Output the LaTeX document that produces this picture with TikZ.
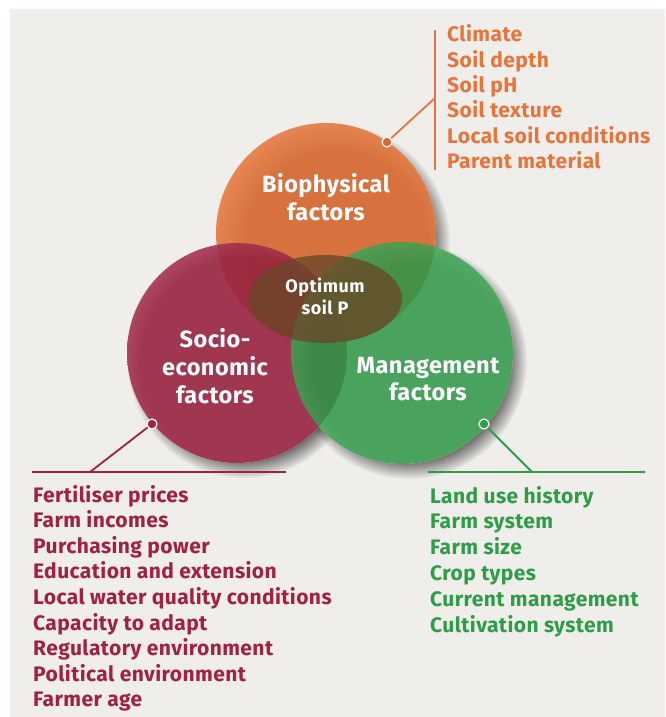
\documentclass[tikz,border=0pt]{standalone}
\usepackage{fontspec}
\setmainfont{Fira Sans}
\newfontfamily\listfont{Fira Sans}[LetterSpace=2]
\newfontfamily\optfont{Fira Sans}[LetterSpace=3]
\usetikzlibrary{fadings}
\definecolor{bgc}{HTML}{EFEEEA}
\definecolor{orC}{HTML}{D66C36}
\definecolor{orL}{HTML}{F08D56}
\definecolor{rdC}{HTML}{98233F}
\definecolor{rdL}{HTML}{B44761}
\definecolor{grC}{HTML}{2E9747}
\definecolor{grL}{HTML}{48AA5C}
\definecolor{orT}{HTML}{E8743C}
\definecolor{rdT}{HTML}{A2213F}
\definecolor{grT}{HTML}{2E9D48}
\definecolor{elC}{HTML}{6A4828}
\pgfdeclareradialshading{rimor}{\pgfpoint{4bp}{-4bp}}{color(0bp)=(orC); color(21bp)=(orC); color(31bp)=(orL); color(50bp)=(orL)}
\pgfdeclareradialshading{rimrd}{\pgfpoint{4bp}{-4bp}}{color(0bp)=(rdC); color(24bp)=(rdC); color(31bp)=(rdL); color(50bp)=(rdL)}
\pgfdeclareradialshading{rimgr}{\pgfpoint{4bp}{-4bp}}{color(0bp)=(grC); color(22bp)=(grC); color(31bp)=(grL); color(50bp)=(grL)}
\tikzset{
  listtxt/.style={anchor=base west, inner sep=0pt, font=\listfont\fontsize{21}{24}\selectfont\bfseries},
  bigtxt/.style={anchor=base, inner sep=0pt, text=white, font=\listfont\fontsize{23.5}{28}\selectfont\bfseries},
  smalltxt/.style={anchor=base, inner sep=0pt, text=white, font=\optfont\fontsize{18}{20}\selectfont\bfseries},
  dotnode/.style={circle, draw=white, line width=1.2pt, minimum size=10pt, inner sep=0pt},
  conn/.style={line width=2.2pt},
  shadowc/.style={fill=black, opacity=0.7, path fading=circle with fuzzy edge 20 percent}
}
\begin{document}
\begin{tikzpicture}[x=1pt,y=-1pt]
\useasboundingbox (0,0) rectangle (665,717);
\fill[bgc] (10,9) rectangle (665,717);
% shadows
\fill[shadowc] (333,241) circle[radius=117];
\fill[shadowc] (244,361) circle[radius=117];
\fill[shadowc] (409,361) circle[radius=118];
% opaque base
\fill[bgc] (326,233) circle[radius=110];
\fill[bgc] (237,353) circle[radius=110];
\fill[bgc] (402,353) circle[radius=111];
% circles
\shade[shading=rimor, opacity=0.95] (326,233) circle[radius=110];
\shade[shading=rimrd, opacity=0.9] (237,353) circle[radius=110];
\shade[shading=rimgr, opacity=0.86] (402,353) circle[radius=111];
\fill[elC, opacity=0.78] (325,299) ellipse[x radius=77, y radius=44];
% circle labels
\node[bigtxt] (bio1) at (326,192) {Biophysical};
\node[bigtxt] (bio2) at (326,220) {factors};
\node[bigtxt] (soc1) at (215,347) {Socio-};
\node[bigtxt] (soc2) at (215,375) {economic};
\node[bigtxt] (soc3) at (215,403) {factors};
\node[bigtxt] (man1) at (428,373) {Management};
\node[bigtxt] (man2) at (428,400) {factors};
\node[smalltxt] (opt1) at (325,292) {Optimum};
\node[smalltxt] (opt2) at (325,314) {soil P};
% orange connector
\coordinate (otop) at (435,30);
\coordinate (obot) at (435,170);
\coordinate (ojoin) at (435,98);
\draw[conn, orT] (otop) -- (obot);
\node[dotnode, fill=orC] (odot) at (387,142) {};
\draw[conn, orT, line width=1.8pt] (odot) -- (ojoin);
% red connector
\coordinate (rl) at (32,472);
\coordinate (rr) at (286,472);
\coordinate (rjoin) at (90,472);
\draw[conn, rdT] (rl) -- (rr);
\node[dotnode, fill=rdT] (rdot) at (152,424) {};
\draw[conn, rdT, line width=1.8pt] (rdot) -- (rjoin);
% green connector
\coordinate (gl) at (428,472);
\coordinate (gr) at (645,472);
\coordinate (gjoin) at (532,472);
\draw[conn, grT] (gl) -- (gr);
\node[dotnode, fill=grT] (gdot) at (484,424) {};
\draw[conn, grT, line width=1.8pt] (gdot) -- (gjoin);
% lists
\foreach \t [count=\i] in {Climate, Soil depth, Soil pH, Soil texture, Local soil conditions, Parent material}
  \node[listtxt, text=orT] (ol\i) at (447,{42+25.3*(\i-1)}) {\t};
\foreach \t [count=\i] in {Fertiliser prices, Farm incomes, Purchasing power, Education and extension, Local water quality conditions, Capacity to adapt, Regulatory environment, Political environment, Farmer age}
  \node[listtxt, text=rdT] (rl\i) at (33,{502+25.6*(\i-1)}) {\t};
\foreach \t [count=\i] in {Land use history, Farm system, Farm size, Crop types, Current management, Cultivation system}
  \node[listtxt, text=grT] (gl\i) at (430,{503+25.8*(\i-1)}) {\t};
\end{tikzpicture}
\end{document}
